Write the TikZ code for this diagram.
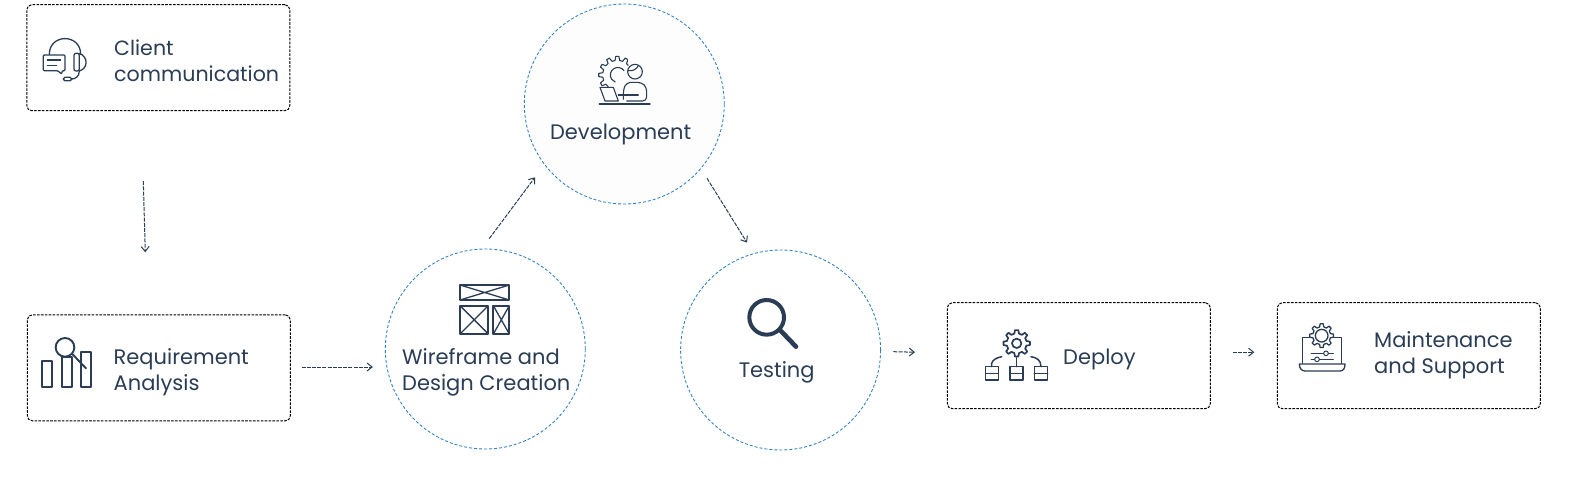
\documentclass[tikz,border=0pt]{standalone}
\usepackage{fontspec}
\setmainfont{Poppins}
\usetikzlibrary{arrows.meta}
\definecolor{navy}{HTML}{2A3D55}
\definecolor{ringblue}{HTML}{2F7FC1}
\tikzset{
  boxnode/.style={draw=black,line width=1pt,dash pattern=on 2.6pt off 1.3pt,rounded corners=5pt,minimum width=263pt,minimum height=106pt,inner sep=0pt,anchor=north west},
  ringnode/.style={circle,draw=ringblue,line width=0.85pt,dash pattern=on 3pt off 2pt,minimum size=200pt,inner sep=0pt},
  lbl/.style={text=navy,font=\fontsize{21}{26}\selectfont,inner sep=0pt,align=left},
  lblc/.style={lbl,align=center},
  conn/.style={draw=navy,line width=1pt,dash pattern=on 4pt off 1.2pt,-{Straight Barb[length=5pt,width=8pt,line width=1pt]}},
  icon/.style={draw=navy,line width=1.3pt,line join=round,line cap=round},
  iconb/.style={icon,line width=1.9pt},
  zoomed/.style={x=0.33333pt,y=-0.33333pt}
}
\newcommand{\gearpath}[7][1.3pt]{% line width; centre, first angle, step, last angle, inner r, outer r
  \draw[icon,line width=#1,shift={(#2)}] ({#3-0.3*#4}:#6)
    foreach \a in {#3,\the\numexpr#3+#4\relax,...,#5} {
      -- ({\a-0.3*#4}:#6) -- ({\a-0.16*#4}:#7) -- ({\a+0.16*#4}:#7) -- ({\a+0.3*#4}:#6)
      arc[start angle={-(\a+0.3*#4)},end angle={-(\a+0.7*#4)},radius=#6*0.33333pt]
    }}
\begin{document}
\begin{tikzpicture}[x=1pt,y=-1pt]
\useasboundingbox (0,0) rectangle (1595,488);
% boxes
\node[boxnode] (client) at (26.3,4.2) {};
\node[boxnode] (req) at (26.8,314.3) {};
\node[boxnode] (deploy) at (946.8,302.2) {};
\node[boxnode] (maint) at (1276.8,302.2) {};
% rings
\node[ringnode,fill=white] (wire) at (485.3,349) {};
\node[ringnode,fill=black!0.6] (dev) at (624.3,104) {};
\node[ringnode,fill=white] (test) at (780.6,350) {};
% labels
\node[lbl,anchor=west,font=\fontsize{20.6}{26}\selectfont] (clientT) at (114,61) {Client\\communication};
\node[lbl,anchor=west] (reqT) at (113.5,372) {Requirement\\Analysis};
\node[lbl,anchor=base west] (deployT) at (1063,364) {Deploy};
\node[lbl,anchor=west] (maintT) at (1374,355.5) {Maintenance\\and Support};
\node[lblc,anchor=base] (devT) at (620.7,139) {Development};
\node[lbl,anchor=west] (wireT) at (402,372) {Wireframe and\\Design Creation};
\node[lblc,anchor=base] (testT) at (776.7,377) {Testing};
% connectors
\draw[conn] ([shift={(-15,70)}]client.south) -- ([shift={(-13.5,-62)}]req.north);
\draw[conn] ([shift={(10.7,0)}]req.east |- 302,367) -- ([shift={(-12,18)}]wire.west);
\draw[conn] ([shift={(4,-10)}]wire.north) -- ([shift={(-18.3,2.3)}]dev.225);
\draw[conn] ([shift={(11.7,3.3)}]dev.-45) -- ([shift={(-33.6,-7)}]test.north);
\draw[conn] ([shift={(12.4,1.7)}]test.east) -- ([shift={(-31.8,-3.5)}]deploy.west);
\draw[conn] ([shift={(22,-3.5)}]deploy.east) -- ([shift={(-22.5,-3.5)}]maint.west);
% headset icon
\begin{scope}[shift={(10,0)},zoomed]
\draw[icon] (118,163) .. controls (118,100) and (212,100) .. (212,163);
\draw[icon,fill=white,rounded corners=1pt] (100,165) -- (165,165) -- (165,212) -- (157,212) -- (155,222) -- (143,212) -- (100,212) -- cycle;
\draw[icon] (112,180) -- (152,180) (112,197) -- (140,197);
\draw[icon,rounded corners=2pt] (192,160) -- (208,160) -- (208,213) -- (192,213) -- cycle;
\draw[icon] (208,160) .. controls (235,170) and (235,205) .. (208,213);
\draw[icon] (208,213) .. controls (208,230) and (195,237) .. (185,237);
\draw[icon,rounded corners=1.5pt] (160,232) rectangle (185,242);
\end{scope}
% analysis icon
\begin{scope}[shift={(10,300)},zoomed]
\draw[iconb] (95,182) rectangle (125,262);
\draw[iconb] (155,172) rectangle (185,262);
\draw[iconb] (212,157) rectangle (243,262);
\draw[iconb,fill=white] (165,142) circle[radius=28];
\draw[iconb] (187,162) -- (228,205);
\end{scope}
% development icon
\begin{scope}[shift={(510,0)},zoomed]
\begin{scope}
\clip (260,160) -- (352,160) -- (356,195) -- (320,250) -- (300,262) -- (260,262) -- cycle;
\gearpath[1.1pt]{322,225}{0}{30}{330}{44}{56};
\end{scope}
\draw[icon,line width=1.1pt] (342,212) arc[start angle=35,end angle=250,radius=7.5pt];
\draw[icon,line width=1.1pt] (375,215) circle[radius=22];
\draw[icon,line width=1.1pt] (354,212) .. controls (370,214) and (380,207) .. (385,197);
\draw[icon,line width=1.1pt,rounded corners=4pt] (340,298) -- (340,268) -- (350,247) -- (395,247) -- (410,262) -- (410,303) -- (350,303);
\draw[icon,line width=1.1pt] (385,285) -- (325,285);
\draw[icon,fill=black!0.6,line width=1.1pt] (270,262) -- (310,262) -- (325,303) -- (285,303) -- cycle;
\draw[icon,line width=1.4pt] (268,312) -- (420,312);
\end{scope}
% wireframe icon
\begin{scope}[shift={(380,240)},zoomed]
\draw[iconb,line width=2pt,line cap=butt] (240,135) rectangle (388,180);
\draw[icon,line cap=butt] (240,135) -- (388,180) (240,180) -- (388,135);
\draw[iconb,line width=2pt,line cap=butt] (240,197) rectangle (325,282);
\draw[icon,line cap=butt] (240,197) -- (325,282) (240,282) -- (325,197);
\draw[iconb,line width=2pt,line cap=butt] (340,197) rectangle (388,282);
\draw[icon,line cap=butt] (340,197) -- (388,282) (340,282) -- (388,197);
\end{scope}
% testing icon
\begin{scope}[shift={(680,250)},zoomed]
\draw[navy,line width=4pt] (260,202) circle[radius=52];
\draw[navy,line width=4.6pt,line cap=round] (300,240) -- (348,290);
\end{scope}
% deploy icon
\begin{scope}[shift={(940,295)},zoomed]
\gearpath[1.7pt]{230,145}{0}{45}{315}{30}{40};
\draw[icon,line width=1.7pt] (230,145) circle[radius=14];
\foreach \l/\r in {137/175,210/249,283/323}{
  \draw[iconb,line width=1.5pt] (\l,215) rectangle (\r,255);
  \draw[iconb,line width=1.5pt] (\l,235) -- (\r,235);
}
\draw[icon,line width=1.5pt] (155,215) -- (155,205) .. controls (157,195) and (170,188) .. (185,185);
\draw[icon,line width=1.5pt] (230,188) -- (230,215);
\draw[icon,line width=1.5pt] (273,185) .. controls (290,188) and (303,195) .. (303,215);
\end{scope}
% maintenance icon
\begin{scope}[shift={(1270,295)},zoomed]
\gearpath{155,122}{0}{45}{315}{27}{36};
\draw[icon] (155,122) circle[radius=19];
\draw[icon] (120,128) -- (97,128) -- (97,205);
\draw[icon] (190,128) -- (215,128) -- (215,205);
\draw[icon] (105,228) -- (210,228) .. controls (220,228) and (225,220) .. (225,207) -- (88,207) .. controls (88,220) and (95,228) .. (105,228) -- cycle;
\draw[icon,line width=1pt] (123,175) -- (160,175) (176,175) -- (190,175) (123,193) -- (133,193) (149,193) -- (190,193);
\draw[icon,line width=1pt] (168,175) circle[radius=7] (141,193) circle[radius=7];
\end{scope}
\end{tikzpicture}
\end{document}
